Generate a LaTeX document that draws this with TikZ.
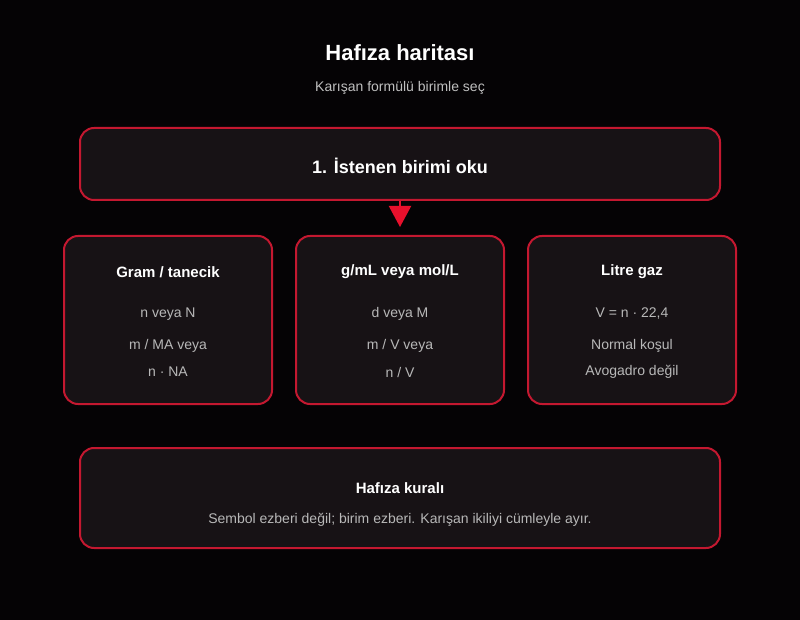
\documentclass[tikz,border=0pt]{standalone}
\usepackage{fontspec}
\setmainfont{Liberation Sans}
\usepackage{tikz}
\usetikzlibrary{arrows.meta, positioning}
\definecolor{bgdark}{RGB}{5,3,5}
\definecolor{boxfill}{RGB}{23,18,21}
\definecolor{boxline}{RGB}{196,24,48}
\definecolor{arrowred}{RGB}{232,16,44}
\definecolor{softgray}{RGB}{184,184,184}

\begin{document}
\begin{tikzpicture}[x=1pt,y=-1pt,
        card/.style={draw=boxline,fill=boxfill,line width=2pt,rounded corners=14pt,
            minimum width=#1,inner sep=0pt},
        cardtitle/.style={text=white,font=\bfseries\fontsize{15}{17}\selectfont},
        cardtext/.style={text=softgray,font=\fontsize{14}{16}\selectfont}]

        % background
        \fill[bgdark] (0,0) rectangle (800,620);
        \useasboundingbox (0,0) rectangle (800,620);

        % heading
        \node[text=white,font=\bfseries\fontsize{22}{26}\selectfont] (heading) at (400,53) {Hafıza haritası};
        \node[cardtext,text=softgray!90] (subheading) at (400,88) {Karışan formülü birimle seç};

        % step box
        \node[card=640pt,minimum height=72pt] (step) at (400,164) {};
        \node[text=white,font=\bfseries\fontsize{18}{21}\selectfont] (steptext) at (400,166) {1. İstenen birimi oku};

        % three unit boxes
        \node[card=208pt,minimum height=168pt] (gram) at (168,320) {};
        \node[card=208pt,minimum height=168pt] (dens) at (400,320) {};
        \node[card=208pt,minimum height=168pt] (gas) at (632,320) {};

        \node[cardtitle] (gramT) at (168,272) {Gram / tanecik};
        \node[cardtext] (gramA) at (168,314) {n veya N};
        \node[cardtext] (gramB) at (168,346) {m / MA veya};
        \node[cardtext] (gramC) at (168,372) {n · NA};

        \node[cardtitle] (densT) at (400,272) {g/mL veya mol/L};
        \node[cardtext] (densA) at (400,314) {d veya M};
        \node[cardtext] (densB) at (400,346) {m / V veya};
        \node[cardtext] (densC) at (400,372) {n / V};

        \node[cardtitle] (gasT) at (632,272) {Litre gaz};
        \node[cardtext] (gasA) at (632,314) {V = n · 22,4};
        \node[cardtext] (gasB) at (632,346) {Normal koşul};
        \node[cardtext] (gasC) at (632,372) {Avogadro değil};

        % rule box
        \node[card=640pt,minimum height=100pt] (rule) at (400,498) {};
        \node[cardtitle] (ruleT) at (400,488) {Hafıza kuralı};
        \node[cardtext] (ruleA) at (400,520) {Sembol ezberi değil; birim ezberi. Karışan ikiliyi cümleyle ayır.};

        % arrow
        \draw[arrowred,line width=2pt,shorten >=8pt,-{Triangle[length=21pt,width=22pt]}] (step.south) -- (dens.north);
    \end{tikzpicture}
\end{document}
